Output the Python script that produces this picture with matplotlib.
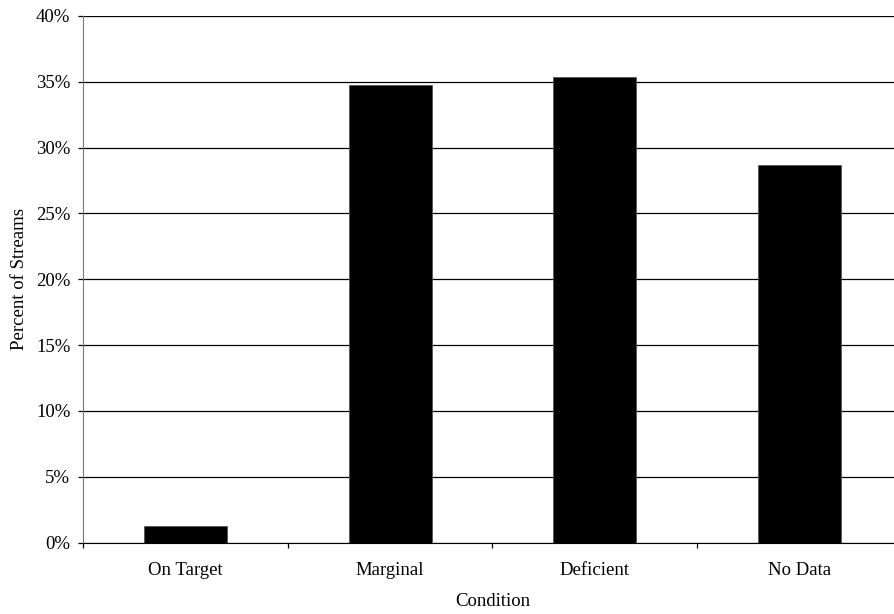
import matplotlib.pyplot as plt
import numpy as np
from matplotlib.ticker import FuncFormatter, FixedLocator

# data
conditions = ['On Target', 'Marginal', 'Deficient', 'No Data']
percent = [1.25, 34.75, 35.4, 28.7]

plt.rcParams['font.family'] = ['Liberation Serif', 'DejaVu Serif']
fs = 13.5

fig = plt.figure(figsize=(8.94, 6.14), dpi=100)
# axes run a little past the right edge, as in the original crop
ax = fig.add_axes([83 / 894, 1 - 542.5 / 614, 819 / 894, 526.5 / 614])

x = np.arange(len(conditions))
ax.bar(x, percent, width=0.405, color='black', edgecolor='#555555', linewidth=0.6, zorder=3)

ax.set_xlim(-0.5, len(conditions) - 0.5)
ax.set_ylim(0, 40)
ax.set_yticks(np.arange(0, 41, 5))
ax.yaxis.set_major_formatter(FuncFormatter(lambda v, p: '%d%%' % v))
ax.grid(axis='y', color='black', linewidth=0.9, zorder=0)

# category labels in the middle, ticks on the boundaries
ax.set_xticks(x)
ax.set_xticklabels(conditions)
ax.tick_params(axis='x', which='major', length=0, pad=14, labelsize=fs)
ax.xaxis.set_minor_locator(FixedLocator(np.arange(-0.5, len(conditions), 1.0)))
ax.tick_params(axis='x', which='minor', length=3.6, direction='out', width=0.9)
ax.tick_params(axis='y', length=3.6, direction='out', width=0.9, pad=5.5, labelsize=fs)

for side in ['top', 'right']:
    ax.spines[side].set_visible(False)
ax.spines['left'].set_color('#777777')
ax.spines['bottom'].set_color('black')

ax.set_xlabel('Condition', fontsize=fs, labelpad=10)
ax.set_ylabel('Percent of Streams', fontsize=fs, labelpad=6)

fig.savefig('out.png', dpi=100)
